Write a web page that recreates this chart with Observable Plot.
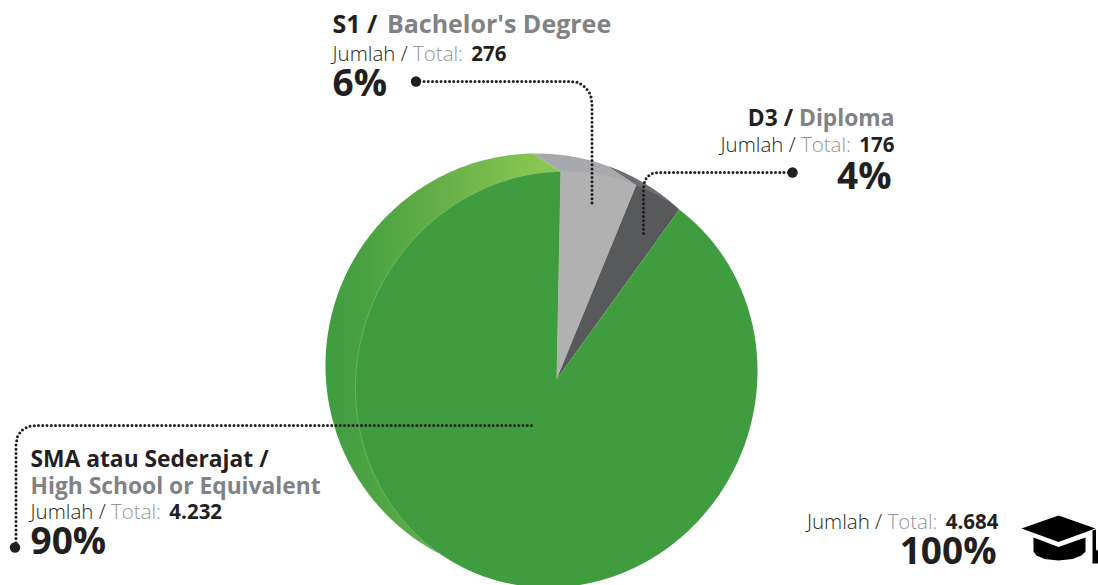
<!DOCTYPE html>
<html>
<head>
<meta charset="utf-8">
<style>
html,body{margin:0;padding:0;background:#fff;overflow:hidden}
svg{display:block}
</style>
<script src="https://cdn.jsdelivr.net/npm/d3@7"></script>
<script src="https://cdn.jsdelivr.net/npm/@observablehq/plot@0.6"></script>
</head>
<body>
<div id="chart"></div>
<script>
// ---- data ----
const categories = ["S1 / Bachelor's Degree", "D3 / Diploma", "SMA atau Sederajat / High School or Equivalent"];
const totals = [276, 176, 4232];
const totalLabels = ["276", "176", "4.232", "4.684"];
const percentLabels = ["6%", "4%", "90%", "100%"];
const sliceColors = ["#b1b1b1", "#58595b", "#3f9d40"];

// ---- pie geometry: tilted front face and offset back rim ----
const W = 1098, H = 585;
const deg = d => d * Math.PI / 180;
const face = {cx: 556, cy: 379, a: 210, b: 199, tilt: deg(25)};
const rim = {cx: 536, cy: 365, rx: 211, ry: 212};
const startAngle = deg(1.1);
const pie = d3.pie().sort(null).startAngle(startAngle).endAngle(startAngle + 2 * Math.PI)(totals);
const facePt = ang => {
  const dx = Math.sin(ang), dy = -Math.cos(ang);
  const u = dx * Math.sin(face.tilt) - dy * Math.cos(face.tilt);
  const v = dx * Math.cos(face.tilt) + dy * Math.sin(face.tilt);
  const r = 1 / Math.hypot(u / face.a, v / face.b);
  return {x: face.cx + r * dx, y: face.cy + r * dy};
};
const rimPt = ang => ({x: rim.cx + rim.rx * Math.sin(ang), y: rim.cy - rim.ry * Math.cos(ang)});
const steps = (fn, a0, a1) => d3.range(0, 161).map(i => fn(a0 + (a1 - a0) * i / 160));
const center = {x: face.cx, y: face.cy};
const slicePts = s => [center, ...steps(facePt, s.startAngle, s.endAngle)];

const rimGreen = [...steps(rimPt, deg(208), deg(359)), facePt(pie[0].startAngle), center];
const rimGray = [...steps(rimPt, deg(-1), deg(19.6)), facePt(pie[1].startAngle), facePt(pie[0].startAngle)];
const rimDark = [...steps(rimPt, deg(19.6), deg(41.9)), facePt(pie[1].endAngle), facePt(pie[1].startAngle)];
const faceEdge = steps(facePt, deg(212), deg(361));

// ---- leaders ----
const leaderS1 = [[415, 81], [570, 81], [578, 82], [585, 87], [590, 94], [591.5, 103], [591.5, 203]];
const leaderD3 = [[792, 172], [658, 172], [651, 173], [646, 177], [643.5, 183], [643, 190], [643, 237]];
const leaderSMA = [[531, 425], [37, 425], [28, 426], [21, 430], [17, 436], [15.5, 444], [15.5, 547]];
const dots = [[415.5, 81], [792, 172], [14.5, 547]];

// ---- icon ----
const capTop = [[1021, 528], [1058, 515], [1095, 528], [1058, 541.5]];
const capBody = [[1033, 537], [1058, 546.5], [1085, 537], [1085, 551], [1081, 555], [1072, 558.5], [1058, 560], [1044, 558.5], [1036, 555], [1033, 551]];
const tassel = [[1092, 530], [1095.5, 529], [1095.5, 549], [1098, 551], [1098, 563], [1092, 563], [1092, 551]];

// ---- text lines, each a single text with styled runs ----
const DARK = "#231f20", GRAY = "#808285", LIGHT = "#939598";
const H2 = 25, H3 = 22.8, BODY = 20.5, PCT = 37;
const head = (a, b, gap) => [{t: a, w: 700, c: DARK}, {t: " " + b, w: 700, c: GRAY, dx: gap}];
const jumlah = n => [{t: "Jumlah / ", w: 300, c: DARK}, {t: "Total: ", w: 300, c: LIGHT}, {t: n, w: 700, c: DARK, dx: 3}];
const big = p => [{t: p, w: 700, c: DARK}];
const lines = [
  {x: 332, y: 32, s: H2, a: "start", parts: head("S1 /", "Bachelor's Degree", 3)},
  {x: 332, y: 60, s: BODY, a: "start", parts: jumlah(totalLabels[0])},
  {x: 332, y: 95, s: PCT, a: "start", parts: big(percentLabels[0])},

  {x: 894, y: 125, s: H3, a: "end", parts: head("D3 /", "Diploma", 0)},
  {x: 894, y: 151, s: BODY, a: "end", parts: jumlah(totalLabels[1])},
  {x: 891, y: 188, s: PCT, a: "end", parts: big(percentLabels[1])},

  {x: 30, y: 466, s: H3, a: "start", parts: [{t: "SMA atau Sederajat /", w: 700, c: DARK}]},
  {x: 30, y: 493, s: H3, a: "start", parts: [{t: "High School or Equivalent", w: 700, c: GRAY}]},
  {x: 30, y: 518, s: BODY, a: "start", parts: jumlah(totalLabels[2])},
  {x: 30, y: 553, s: PCT, a: "start", parts: big(percentLabels[2])},

  {x: 998, y: 528, s: BODY, a: "end", parts: jumlah(totalLabels[3])},
  {x: 996, y: 563, s: PCT, a: "end", parts: big(percentLabels[3])}
].map(l => ({...l, text: l.parts.map(p => p.t).join("")}));

const poly = (pts, fill) => Plot.line(pts, {x: "x", y: "y", fill, stroke: "none", curve: "linear-closed"});
const xy = a => a.map(([x, y]) => ({x, y}));
const leader = pts => Plot.line(xy(pts), {x: "x", y: "y", stroke: DARK, strokeWidth: 3, strokeDasharray: "0 4.25", strokeLinecap: "round"});
const defs = () => {
  const d = d3.create("svg:defs");
  const g = d.append("linearGradient").attr("id", "rimGreen");
  [[0, "#3f9d40"], [0.12, "#47a041"], [0.45, "#62ad48"], [0.95, "#8cc850"]].forEach(([o, c]) =>
    g.append("stop").attr("offset", o).attr("stop-color", c));
  return d.node();
};
const textMark = anchor => Plot.text(lines.filter(l => l.a === anchor),
  {x: "x", y: "y", text: "text", fontSize: "s", fill: DARK, textAnchor: anchor, lineAnchor: "bottom"});

const plot = Plot.plot({
  width: W, height: H,
  margin: 0,
  style: {fontFamily: "'Open Sans', 'Noto Sans', sans-serif", background: "#fff", overflow: "hidden"},
  x: {domain: [0, W], range: [0, W], axis: null},
  y: {domain: [0, H], range: [0, H], axis: null},
  marks: [
    defs,
    poly(rimGreen, "url(#rimGreen)"),
    poly(rimGray, "#a7a9ac"),
    poly(rimDark, "#6d6e71"),
    ...pie.map((s, i) => poly(slicePts(s), sliceColors[i])),
    Plot.line(faceEdge, {x: "x", y: "y", stroke: "#8fc98f", strokeWidth: 0.6, strokeOpacity: 0.8}),
    leader(leaderS1), leader(leaderD3), leader(leaderSMA),
    Plot.dot(xy(dots), {x: "x", y: "y", r: 5.2, fill: DARK, stroke: "none"}),
    poly(xy(capTop), "#000"), poly(xy(capBody), "#000"), poly(xy(tassel), "#000"),
    textMark("start"), textMark("end")
  ]
});

// Style the runs inside each label line (weight and colour change mid-line).
const byText = new Map(lines.map(l => [l.text, l]));
d3.select(plot).selectAll("text").each(function () {
  const line = byText.get(this.textContent);
  if (!line) return;
  const sel = d3.select(this).text(null).attr("xml:space", "preserve").style("white-space", "pre");
  line.parts.forEach(p => sel.append("tspan")
    .attr("dx", p.dx || null).attr("fill", p.c).attr("font-weight", p.w).text(p.t));
});
document.getElementById("chart").append(plot);
</script>
</body>
</html>
